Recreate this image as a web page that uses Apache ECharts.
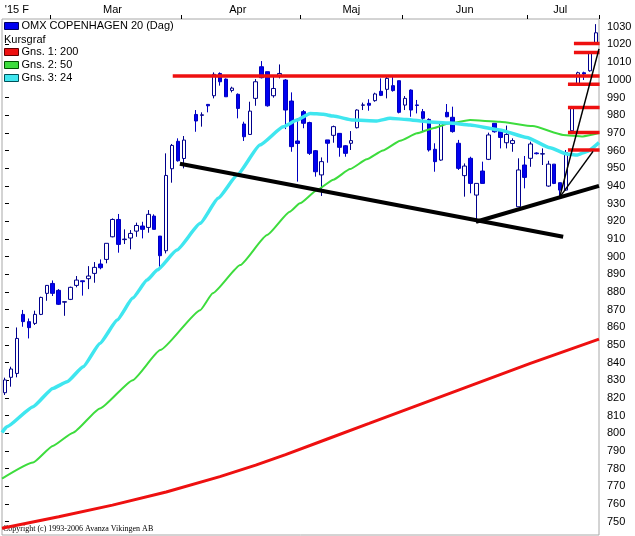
<!DOCTYPE html>
<html>
<head>
<meta charset="utf-8">
<title>OMX Copenhagen 20</title>
<script src="https://cdn.jsdelivr.net/npm/echarts@6.0.0/dist/echarts.min.js"></script>
<style>
  html, body { margin: 0; padding: 0; background: #fff; }
  #chart { width: 635px; height: 536px; }
</style>
</head>
<body>
<div id="chart"></div>
<script>
// trading days per month (2015)
const febDays = [18, 19, 20, 23, 24, 25, 26, 27]
const marDays = [2, 3, 4, 5, 6, 9, 10, 11, 12, 13, 16, 17, 18, 19, 20, 23, 24, 25, 26, 27, 30, 31]
const aprDays = [1, 2, 7, 8, 9, 10, 13, 14, 15, 16, 17, 20, 21, 22, 23, 24, 27, 28, 29, 30]
const majDays = [4, 5, 6, 7, 8, 11, 12, 13, 18, 19, 20, 21, 22, 26, 27, 28, 29]
const junDays = [1, 2, 3, 4, 8, 9, 10, 11, 12, 15, 16, 17, 18, 19, 22, 23, 24, 25, 26, 29, 30]
const julDays = [1, 2, 3, 6, 7, 8, 9, 10, 13, 14, 15, 16]

// month labels on the top axis and where they sit / where the month ticks go
const monthLabels = ["'15 F", 'Mar', 'Apr', 'Maj', 'Jun', 'Jul']
const monthLabelIdx = [2, 18, 39, 58, 77, 93]
const monthTickIdx = [8, 30, 50, 67, 88]

// y axis ticks
const yTicks = [750, 760, 770, 780, 790, 800, 810, 820, 830, 840, 850, 860, 870, 880, 890,
  900, 910, 920, 930, 940, 950, 960, 970, 980, 990, 1000, 1010, 1020, 1030]

// OHLC (null = no quote that day)
const opens = [823.0, 831.7, 833.9, 867.3, 863.2, 862.2, 867.3, 879.2, 884.8, 880.9,
  874.2, 875.8, 883.7, 886.3, 887.5, 890.5, 895.8, 898.4, 911.2, 921.0,
  909.6, 910.5, 914.4, 917.3, 916.5, 922.9, 911.6, 903.3, 949.7, 965.2,
  955.5, null, 980.4, 979.9, 986.1, 991.0, 1003.6, 1000.4, 994.0, 991.8,
  975.0, 969.1, 989.5, 1007.4, 1004.6, 991.0, 1002.3, 999.9, 988.0, 965.4,
  982.0, 975.8, 959.9, 946.2, 966.0, 968.6, 969.7, 962.7, 964.1, 972.9,
  985.6, 986.7, 988.2, 993.5, 994.6, 996.7, 999.5, 985.7, 994.2, 985.8,
  982.0, 977.6, 960.7, 954.6, 981.6, 978.8, 964.1, 945.8, 955.6, 934.8,
  948.4, 955.0, 975.4, 971.0, 964.4, 964.0, 928.2, 951.8, 955.6, 958.6,
  958.0, 939.9, 952.3, 941.8, 937.6, 971.2, 997.6, 1004.0, 1005.1, 1020.6]
const closes = [830.2, 836.4, 853.7, 863.2, 859.8, 867.3, 876.9, 883.7, 879.2, 873.0,
  874.5, 882.6, 886.7, 885.8, 889.0, 893.9, 893.7, 907.5, 921.0, 906.9,
  909.9, 913.1, 917.6, 915.4, 923.9, 915.4, 900.5, 945.9, 962.9, 954.2,
  965.9, null, 976.7, 980.2, 985.3, 1003.1, 998.9, 990.4, 995.3, 983.8,
  967.8, 982.3, 998.9, 1001.2, 985.3, 995.1, 1003.6, 982.9, 962.2, 964.0,
  975.4, 958.4, 948.0, 953.7, 964.1, 973.5, 961.8, 958.4, 965.6, 982.9,
  985.8, 985.6, 992.0, 991.2, 1000.8, 993.9, 981.6, 989.5, 982.9, 985.5,
  978.2, 960.3, 953.7, 976.3, 979.1, 970.7, 949.9, 951.2, 941.4, 941.4,
  941.4, 968.8, 970.6, 967.4, 969.1, 965.6, 949.0, 944.8, 963.7, 958.2,
  958.2, 952.3, 941.4, 937.6, 958.8, 984.4, 1004.0, 1003.3, 1015.3, 1026.6]
const lows = [821.7, 826.4, 831.7, 860.3, 853.7, 861.3, 866.9, 875.0, 877.7, 872.6,
  866.5, 875.4, 882.6, 877.9, 881.6, 885.2, 892.8, 896.2, 910.9, 902.2,
  907.1, 904.1, 911.2, 910.3, 913.5, 915.4, 893.3, 901.8, 941.8, 953.7,
  949.9, null, 970.6, 973.5, 981.6, 989.5, 996.7, 990.4, 992.9, 978.2,
  965.4, 968.8, 985.3, 1000.8, 984.8, 989.9, 1000.8, 972.1, 959.3, 942.4,
  972.6, 957.5, 945.2, 934.3, 953.1, 964.4, 956.5, 956.5, 960.3, 972.5,
  982.9, 982.5, 987.6, 990.8, 989.5, 993.3, 981.0, 982.9, 979.1, 981.0,
  970.6, 959.4, 948.0, 954.2, 978.8, 970.1, 949.0, 933.9, 935.8, 919.2,
  941.4, 954.6, 970.1, 961.2, 961.2, 959.3, 928.2, 938.6, 950.8, 957.8,
  951.8, 939.5, 941.0, 933.9, 937.3, 970.6, 997.0, 999.9, 1004.6, 1020.2]
const highs = [831.5, 837.7, 859.9, 869.8, 865.0, 869.4, 877.3, 883.9, 886.5, 881.6,
  874.6, 883.0, 889.0, 886.4, 894.6, 896.9, 898.4, 907.5, 921.6, 924.1,
  915.4, 915.0, 919.2, 919.7, 926.3, 923.9, 911.6, 958.4, 963.7, 966.9,
  968.2, null, 982.9, 981.6, 986.3, 1004.2, 1004.2, 1000.8, 996.1, 992.3,
  976.3, 987.6, 1000.4, 1010.6, 1004.6, 1002.3, 1008.7, 1000.4, 992.9, 978.2,
  982.9, 976.3, 960.3, 956.1, 966.0, 974.1, 969.7, 963.1, 971.0, 983.3,
  987.1, 989.0, 992.7, 1000.8, 1002.7, 1001.8, 999.5, 990.8, 994.6, 988.6,
  983.5, 978.2, 964.1, 976.5, 986.3, 984.8, 966.0, 952.7, 956.5, 941.4,
  953.7, 970.1, 975.4, 971.6, 974.1, 966.9, 955.6, 956.9, 965.0, 959.0,
  961.2, 954.2, 952.3, 941.8, 960.3, 985.2, 1004.6, 1004.6, 1015.9, 1031.5]

// moving averages: [day index, value]
const ma200 = [[-0.5, 746.3], [9, 752.8], [18, 759.4], [27, 766.8], [36, 775.5], [42, 782.0],
  [47, 788.0], [54, 796.8], [61, 805.6], [70, 817.0], [79, 828.3], [88, 839.6], [99.5, 853.3]]
const ma50 = [[-0.5, 774.4], [4.7, 783.5], [8, 792.9], [11.4, 800.4], [15.9, 814.1], [21.4, 830.1],
  [26, 847.1], [32.7, 869.7], [34.8, 879.2], [39.4, 895.2], [43.9, 912.2], [47.7, 925.4],
  [49.4, 930.1], [52.3, 937.7], [55, 943.5], [57.8, 949.5], [60.6, 955], [63.3, 960],
  [66.2, 965.5], [69, 969.7], [71.7, 972.6], [74.5, 975.4], [77.9, 977.2], [82.9, 976.3],
  [88.4, 973.8], [93.5, 968.8], [96.8, 968.0], [99.5, 969.9]]
const ma24 = [[-0.5, 800.5], [0.3, 803.7], [4.7, 815.1], [8, 825.4], [10.4, 829.2], [13.1, 837.7],
  [15.9, 850.9], [18.8, 864.1], [21.4, 876.5], [23.8, 886.7], [25.5, 892.4], [28.8, 903.7],
  [32.7, 918.8], [35.7, 933], [38.9, 946.1], [42.7, 963.1], [46.6, 973.4], [48.9, 977.2],
  [51.1, 981.0], [53.3, 980.5], [55, 979.5], [58.3, 977.2], [62.3, 976.7], [64.5, 978.2],
  [67.3, 977.6], [70.7, 976.3], [74.5, 975.5], [77.9, 974.4], [82.9, 971.6], [87.4, 967.4],
  [91.3, 961.5], [94.1, 958], [95.8, 957.4], [97.5, 959.5], [99.5, 964.5]]

// drawn trend lines and levels: [day index, value]
const trendThick = [
  [[29.3, 952.5], [93.5, 911.2]],
  [[78.9, 919.7], [99.5, 940.0]]
]
const trendThin = [
  [[92.9, 933.5], [99.5, 1017.5]],
  [[92.9, 933.5], [98.5, 959.5]]
]
const levelValues = [1002.1, 1020.6, 1015.5, 997.5, 984.4, 970.2, 960.3]
const levelStarts = [28.1, 95.3, 95.3, 94.3, 94.3, 94.3, 94.3]
const levelEnd = 99.6

const FONT = '"Liberation Sans", Arial, sans-serif'

// bygger datoer til kategoriaksen
const pad = (n) => (n < 10 ? '0' + n : '' + n)
const dates = []
;[[2, febDays], [3, marDays], [4, aprDays], [5, majDays], [6, junDays], [7, julDays]].forEach(([m, days]) => {
  days.forEach((d) => dates.push('2015-' + pad(m) + '-' + pad(d)))
})

const candles = opens.map((o, i) => (o == null ? '-' : [o, closes[i], lows[i], highs[i]]))

const lineSeries = (name, data, color, width, smooth) => ({
  name,
  type: 'line',
  xAxisIndex: 1,
  yAxisIndex: 0,
  data,
  symbol: 'none',
  silent: true,
  smooth: smooth || false,
  smoothMonotone: 'x',
  z: 3,
  itemStyle: { color },
  lineStyle: { color, width }
})

const series = [
  {
    name: 'OMX COPENHAGEN 20 (Dag)',
    type: 'candlestick',
    xAxisIndex: 0,
    yAxisIndex: 0,
    data: candles,
    barWidth: 4,
    z: 2,
    itemStyle: {
      color: '#ffffff',
      color0: '#0000f0',
      borderColor: '#00008c',
      borderColor0: '#0000c0',
      borderWidth: 1
    }
  },
  lineSeries('Gns. 1: 200', ma200, '#ee1010', 3),
  lineSeries('Gns. 2: 50', ma50, '#3ddc3d', 2, 0.15),
  lineSeries('Gns. 3: 24', ma24, '#3fe6ef', 3.5, 0.15)
]

levelValues.forEach((v, k) => {
  series.push(Object.assign(lineSeries('level' + k, [[levelStarts[k], v], [levelEnd, v]], '#ee1010', 3.5), { z: 4 }))
})
trendThick.forEach((seg, k) => {
  series.push(Object.assign(lineSeries('trend' + k, seg, '#000000', 4), { z: 5 }))
})
trendThin.forEach((seg, k) => {
  series.push(Object.assign(lineSeries('fan' + k, seg, '#000000', 1.5), { z: 5 }))
})

const legendText = { fontSize: 11, color: '#000', fontFamily: FONT, padding: [0, 0, 0, -2] }

const chart = echarts.init(document.getElementById('chart'), null, { renderer: 'canvas' })

chart.setOption({
  animation: false,
  backgroundColor: '#ffffff',
  textStyle: { fontFamily: FONT },
  grid: {
    left: 2,
    right: 36,
    top: 19,
    bottom: 1,
    show: true,
    borderColor: '#a8a8a8',
    borderWidth: 1,
    backgroundColor: '#ffffff'
  },
  legend: [
    {
      data: [{ name: 'OMX COPENHAGEN 20 (Dag)', icon: 'rect', itemStyle: { color: '#0000f0', borderColor: '#000060', borderWidth: 1 } }],
      left: 4,
      top: 20.5,
      padding: 0,
      itemWidth: 14,
      itemHeight: 7,
      selectedMode: false,
      textStyle: legendText
    },
    {
      data: [
        { name: 'Gns. 1: 200', icon: 'rect', itemStyle: { color: '#ee1010', borderColor: '#600000', borderWidth: 1 } },
        { name: 'Gns. 2: 50', icon: 'rect', itemStyle: { color: '#3ddc3d', borderColor: '#005000', borderWidth: 1 } },
        { name: 'Gns. 3: 24', icon: 'rect', itemStyle: { color: '#3fe6ef', borderColor: '#005058', borderWidth: 1 } }
      ],
      orient: 'vertical',
      left: 4,
      top: 46.5,
      padding: 0,
      itemGap: 2,
      itemWidth: 14,
      itemHeight: 7,
      selectedMode: false,
      textStyle: legendText
    }
  ],
  graphic: [
    {
      type: 'text',
      left: 4,
      top: 34,
      style: { text: 'Kursgraf', font: '11px ' + FONT, fill: '#000' }
    },
    {
      type: 'text',
      left: 3,
      top: 525,
      style: { text: 'Copyright (c) 1993-2006 Avanza Vikingen AB', font: '8px "Liberation Serif", serif', fill: '#000' }
    }
  ],
  xAxis: [
    {
      type: 'category',
      position: 'top',
      data: dates,
      boundaryGap: true,
      axisLine: { show: false },
      axisTick: {
        show: true,
        length: 4,
        interval: (idx) => monthTickIdx.indexOf(idx) >= 0,
        lineStyle: { color: '#000' }
      },
      axisLabel: {
        interval: (idx) => monthLabelIdx.indexOf(idx) >= 0,
        formatter: (val, idx) => monthLabels[monthLabelIdx.indexOf(idx)],
        color: '#000',
        fontSize: 11,
        fontFamily: FONT,
        margin: 4
      },
      splitLine: { show: false }
    },
    {
      type: 'value',
      min: -0.5,
      max: 99.5,
      show: false
    }
  ],
  yAxis: {
    type: 'value',
    position: 'right',
    min: 742.5,
    max: 1034.4,
    offset: 4,
    axisLine: { show: false },
    axisTick: { show: true, length: 4, customValues: yTicks, lineStyle: { color: '#000' } },
    axisLabel: {
      customValues: yTicks,
      formatter: (v) => String(v),
      color: '#000',
      fontSize: 11,
      fontFamily: FONT,
      margin: 4
    },
    splitLine: { show: false }
  },
  series
})
</script>
</body>
</html>
